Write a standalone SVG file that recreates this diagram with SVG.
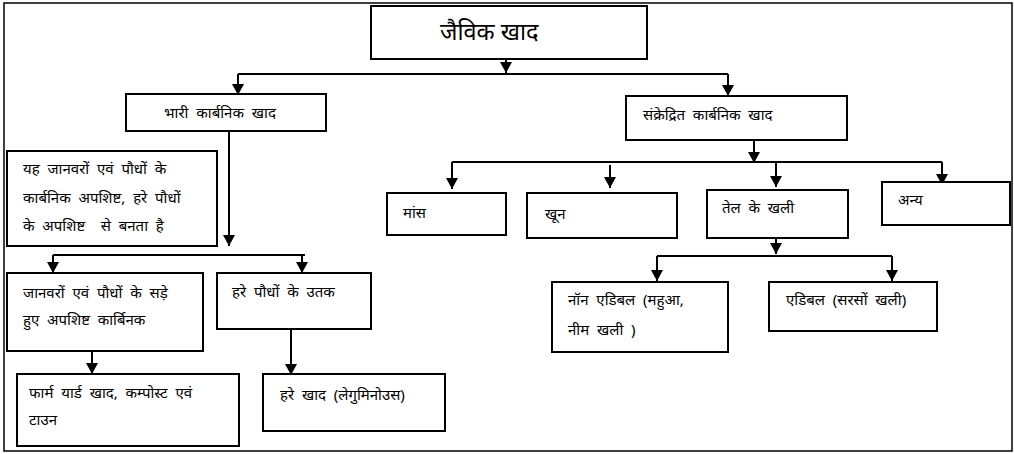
<svg xmlns="http://www.w3.org/2000/svg" width="1014" height="454" viewBox="0 0 1014 454">
<defs>
<marker id="ah" markerUnits="userSpaceOnUse" markerWidth="12" markerHeight="12" refX="11" refY="6" orient="auto">
<path d="M0,0 L11,6 L0,12 z" fill="#000"/>
</marker>
<style>
.box{fill:#fff;stroke:#000;stroke-width:2}
.t{font-family:"Noto Sans","Noto Sans Devanagari","Lohit Devanagari",sans-serif;font-size:15px;fill:#000;white-space:pre}
.big{font-size:23.5px}
.c{fill:none;stroke:#000;stroke-width:2}
.a{fill:none;stroke:#000;stroke-width:2;marker-end:url(#ah)}
</style>
</defs>
<rect width="1014" height="454" fill="#fff"/>
<rect x="4" y="3" width="1008" height="448" fill="none" stroke="#000" stroke-width="1.5"/>
<g id="connectors">
<path class="a" d="M506,59 V73"/>
<path class="c" d="M238,74 H728"/>
<path class="a" d="M238,74 V95"/>
<path class="a" d="M728,74 V96"/>
<path class="a" d="M229,131 V246"/>
<path class="c" d="M53,255 H305"/>
<path class="a" d="M53,255 V273"/>
<path class="a" d="M302,255 V273"/>
<path class="a" d="M92,351 V374"/>
<path class="a" d="M291,329 V375"/>
<path class="a" d="M754,140 V163"/>
<path class="c" d="M452,162 H942"/>
<path class="a" d="M452,162 V189"/>
<path class="a" d="M610,165 V188"/>
<path class="a" d="M776,162 V187"/>
<path class="a" d="M942,162 V185"/>
<path class="a" d="M776,238 V254"/>
<path class="c" d="M657,256 H892"/>
<path class="a" d="M657,256 V281"/>
<path class="a" d="M892,256 V281"/>
</g>
<g id="n-title"><rect class="box" x="371" y="6" width="276" height="53"/><text class="t big" x="440" y="40">जैविक खाद</text></g>
<g id="n-bhari"><rect class="box" x="126" y="94" width="200" height="37"/><text class="t" x="164" y="118">भारी  कार्बनिक  खाद</text></g>
<g id="n-sankre"><rect class="box" x="626" y="96" width="221" height="44"/><text class="t" x="643" y="120">संक्रेद्रित  कार्बनिक  खाद</text></g>
<g id="n-yah"><rect class="box" x="7" y="151" width="210" height="95"/><text class="t" x="23" y="174">यह  जानवरों  एवं  पौधों  के</text><text class="t" x="23" y="203">कार्बनिक  अपशिष्ट,  हरे  पौधों</text><text class="t" x="23" y="231">के  अपशिष्ट    से  बनता  है</text></g>
<g id="n-jaanvar"><rect class="box" x="7" y="273" width="196" height="78"/><text class="t" x="23" y="298">जानवरों  एवं  पौधों  के  सड़े</text><text class="t" x="23" y="325">हुए  अपशिष्ट  कार्बिनक</text></g>
<g id="n-hare-paudhe"><rect class="box" x="217" y="273" width="154" height="56"/><text class="t" x="232" y="297">हरे  पौधों  के  उतक</text></g>
<g id="n-farm"><rect class="box" x="17" y="374" width="222" height="72"/><text class="t" x="29" y="398">फार्म  यार्ड  खाद,  कम्पोस्ट  एवं</text><text class="t" x="29" y="425">टाउन</text></g>
<g id="n-hare-khad"><rect class="box" x="263" y="374" width="182" height="57"/><text class="t" x="280" y="400">हरे  खाद  (लेगुमिनोउस)</text></g>
<g id="n-maans"><rect class="box" x="387" y="193" width="119" height="42"/><text class="t" x="403" y="218">मांस</text></g>
<g id="n-khoon"><rect class="box" x="527" y="193" width="150" height="45"/><text class="t" x="545" y="219">खून</text></g>
<g id="n-tel"><rect class="box" x="707" y="190" width="141" height="48"/><text class="t" x="722" y="213">तेल  के  खली</text></g>
<g id="n-anya"><rect class="box" x="882" y="182" width="128" height="43"/><text class="t" x="898" y="205">अन्य</text></g>
<g id="n-non-edible"><rect class="box" x="552" y="282" width="176" height="70"/><text class="t" x="568" y="305">नॉन  एडिबल  (महुआ,</text><text class="t" x="568" y="335">नीम  खली  )</text></g>
<g id="n-edible"><rect class="box" x="769" y="282" width="168" height="49"/><text class="t" x="786" y="305">एडिबल  (सरसों  खली)</text></g>
</svg>
